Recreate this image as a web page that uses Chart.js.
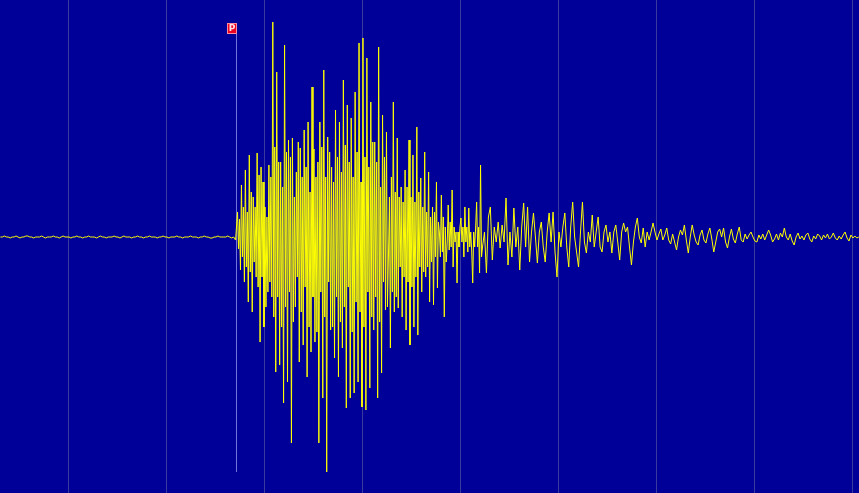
<!DOCTYPE html>
<html>
<head>
<meta charset="utf-8">
<script src="https://cdn.jsdelivr.net/npm/chart.js@4/dist/chart.umd.min.js"></script>
<style>
  html, body { margin: 0; padding: 0; background: #000099; overflow: hidden; }
  canvas { display: block; }
</style>
</head>
<body>
<canvas id="seismo" width="859" height="493"></canvas>
<script>
// record window (seconds) and 10 s grid marks
const xMin = 2.96;
const xMax = 90.62;
const gridTimes = [10, 20, 30, 40, 50, 60, 70, 80, 90];

// amplitude window (counts)
const yMin = -256;
const yMax = 237;

// P pick
const pickTime = 27.09;
const pickLabel = 'P';
const pickTop = 203;
const pickBottom = -235;

// trace values (three stretches, each with its own start and step)
const noiseStart = 3.0, noiseStep = 0.2;
const preEventNoise = [
  0, 0, 1, 0, 0, -1, 0, 0, 1, 0,
  -1, 0, 0, 1, 1, 0, 0, -1, 0, 0,
  0, 1, 0, -1, 0, 0, 0, 1, 0, 0,
  -1, 0, 1, 0, 0, 0, -1, 0, 0, 1,
  0, 0, -1, 0, 0, 1, 0, 0, 0, -1,
  0, 1, 0, 0, -1, 0, 0, 0, 1, 0,
  0, -1, 0, 1, 0, 0, 0, -1, 0, 0,
  1, 0, 0, -1, 0, 0, 1, 0, 0, 0,
  -1, 0, 0, 1, 0, 0, -1, 0, 0, 0,
  1, 0, 0, -1, 0, 0, 0, 1, 0, 0,
  0, -1, 0, 0, 1, 0, 0, -1, -1, 0,
  0, 1, 0, 0, 0, 0, 1, 0, -1, 0,
  -3
];

const shakingStart = 27.2, shakingStep = 0.1;
const mainShaking = [
  25, -12, 18, -33,   52, -20, 30, -45,   67, -30, 25, -65,   82, -35, 45, -75,
  40, -25, 30, -40,   84, -50, 62, -105,  70, -40, 55, -90,   30, -70, 20, -55,
  72, -45, 60, -60,   215, -80, 90, -135, 165, -60, 75, -128, 75, -90, 50, -166,
  192, -70, 85, -145, 97, -55, 80, -206,  99, -85, 40, -70,   65, -40, 95, -125,
  89, -75, 60, -108,  107, -50, 70, -140, 115, -90, 45, -115, 150, -60, 88, -105,
  60, -95, 75, -206,  115, -55, 90, -161, 167, -80, 60, -235, 100, -45, 85, -93,
  70, -90, 55, -121,  127, -60, 80, -140, 115, -85, 65, -111, 157, -70, 92, -171,
  132, -50, 75, -161, 119, -95, 60, -156, 145, -65, 85, -145, 194, -75, 55, -170,
  199, -90, 80, -173, 179, -55, 70, -151, 135, -80, 95, -93,  95, -60, 75, -161,
  190, -85, 50, -136, 122, -45, 80, -73,  105, -70, -20, 40,  -111, 60, -55, 135,
  -75, 45, -60, 99,   -71, 40, -30, 50,   -80, 35, -40, 67,   -93, 50, -45, 97,
  -108, 40, -50, 82,  -90, 35, -40, 110,  -98, 45, -30, 59,   -55, 30, -35, 85,
  -40, 25, -30, 65,   -65, 20, -25, 30,   -68, 25, -20, 55,   -51, 15, 5, -20,
  42, -15, 20, -80,   10, -25, -5, 32,    -13, 15, -10, 47,   -30, 10, -5, 5,
  -46, 5, -10, 10,    19, -5, 10, -20,    30, -5, 10, -15,    29, -10, 5, -15,
  -46, 5, -10, 10,    35, -10, 10, -36,   72, -20
];

const codaStart = 52.2, codaStep = 0.2;
const coda = [
  -10, 5, -36, 20, 30, -23, 10, -5, 15, -11,
  12, -5, 39, -28, 5, -20, 29, -10, 10, -33,
  10, 34, -10, 30, -25, 5, 24, 0, -26, 5,
  15, -10, -25, 5, 24, -5, 25, -15, -40, 5,
  -10, 10, 24, -10, -30, 10, 35, 0, -15, -30,
  5, 35, -5, -16, 5, -5, 22, -10, 5, 20,
  -10, -15, 5, 12, -5, 5, -16, 5, 12, -5,
  -23, 5, 14, 5, 10, -10, -28, -5, 10, 19,
  0, -6, 9, -10, 5, -3, 5, 14, 5, -3,
  3, 8, -3, 2, 9, -3, -7, 3, -5, -13,
  0, 7, 2, 12, -3, -16, 0, 12, 2, -5,
  -8, 2, 7, -3, -6, 3, 9, -2, -15, -5,
  5, 8, 0, 9, -5, -11, 0, 8, -2, -6,
  3, 10, -3, -5, 3, -2, 2, 5, 0, -4,
  -5, 2, -2, 3, -3, 2, 7, 2, -5, -2,
  3, -3, 4, 0, 9, 0, -3, 3, -4, -8,
  0, 4, -2, 1, -3, 2, 4, -2, -5, 1,
  -2, 3, 1, -3, 2, -1, 3, -2, 0, 4,
  -1, -3, 1, -2, 2, 5, -1, -4, 2, -1,
  1, -1, 0
];

const toPoints = (vals, start, step) => vals.map((v, i) => ({ x: start + i * step, y: v }));
const tracePoints = [].concat(
  toPoints(preEventNoise, noiseStart, noiseStep),
  toPoints(mainShaking, shakingStart, shakingStep),
  toPoints(coda, codaStart, codaStep)
);

const pickPlugin = {
  id: 'pickMarker',
  beforeDatasetsDraw(chart) {
    const { ctx, scales: { x, y } } = chart;
    const px = Math.round(x.getPixelForValue(pickTime)) + 0.5;
    ctx.save();
    ctx.strokeStyle = '#7373dc';
    ctx.lineWidth = 1;
    ctx.beginPath();
    ctx.moveTo(px, y.getPixelForValue(pickTop));
    ctx.lineTo(px, y.getPixelForValue(pickBottom));
    ctx.stroke();
    ctx.restore();
  },
  afterDatasetsDraw(chart) {
    const { ctx, scales: { x, y } } = chart;
    const px = Math.round(x.getPixelForValue(pickTime));
    const top = Math.round(y.getPixelForValue(pickTop));
    ctx.save();
    ctx.fillStyle = '#ee0022';
    ctx.fillRect(px - 9, top - 11, 10, 11);
    ctx.strokeStyle = '#ff8aa0';
    ctx.lineWidth = 1;
    ctx.strokeRect(px - 8.5, top - 10.5, 9, 10);
    ctx.fillStyle = '#ffe0e8';
    ctx.font = 'bold 9px "DejaVu Sans"';
    ctx.textAlign = 'center';
    ctx.textBaseline = 'middle';
    ctx.fillText(pickLabel, px - 4, top - 5);
    ctx.restore();
  }
};

new Chart(document.getElementById('seismo'), {
  type: 'line',
  data: {
    datasets: [{
      data: tracePoints,
      borderColor: '#ffff00',
      borderWidth: 1,
      pointRadius: 0,
      tension: 0,
      fill: false
    }]
  },
  options: {
    responsive: false,
    devicePixelRatio: 1,
    animation: false,
    parsing: false,
    layout: { padding: 0 },
    plugins: {
      legend: { display: false },
      tooltip: { enabled: false }
    },
    scales: {
      x: {
        type: 'linear',
        min: xMin,
        max: xMax,
        afterBuildTicks: axis => {
          axis.ticks = gridTimes.map(v => ({ value: v }));
        },
        ticks: { display: false },
        grid: { color: '#3a3a9e', lineWidth: 1, drawTicks: false },
        border: { display: false }
      },
      y: {
        display: false,
        min: yMin,
        max: yMax
      }
    }
  },
  plugins: [pickPlugin]
});
</script>
</body>
</html>
